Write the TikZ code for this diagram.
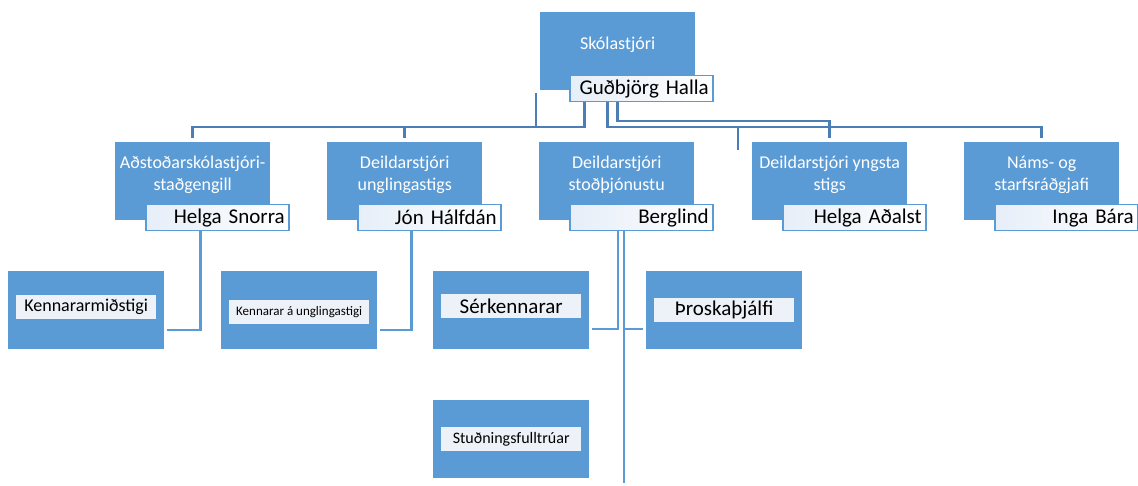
\documentclass[tikz,border=0pt]{standalone}
\usepackage{fontspec}
\setmainfont{Carlito}
\usepackage{xcolor}
\usepackage{tikz}
\usetikzlibrary{positioning,calc}

\definecolor{boxblue}{HTML}{5B9BD5}
\definecolor{linedark}{HTML}{4A7EB5}
\definecolor{namefill}{HTML}{E6EEF8}
\definecolor{tagfill}{HTML}{EDF2F9}

\tikzset{
  rolebox/.style={fill=boxblue, minimum width=155pt, minimum height=78pt, inner sep=0pt, anchor=north west},
  roletext/.style={text=white, align=center, font=\fontsize{18}{22}\selectfont},
  namebox/.style={draw=boxblue, line width=1.5pt, left color=namefill, right color=white,
    text width=135pt, inner xsep=4pt, inner ysep=0pt, minimum height=26pt,
    align=right, anchor=north west, font=\fontsize{21}{24}\selectfont},
  tagbox/.style={fill=tagfill, minimum width=140pt, minimum height=24pt, inner sep=0pt},
  topline/.style={draw=linedark, line width=2.5pt},
  subline/.style={draw=boxblue, line width=2.5pt}
}

\begin{document}
\begin{tikzpicture}[x=1pt,y=-1pt]
    \useasboundingbox (0,0) rectangle (1138,486);
    % Draw head box
    \node[rolebox] (boss) at (540,12) {};
    \node[roletext] at ([yshift=6pt]boss.center) {Skólastjóri};
    \node[namebox] (whoboss) at (569,75) {Guðbjörg Halla};
    % Draw second row
    \foreach \n/\x/\title/\who in {ast/115/{Aðstoðarskólastjóri-\\staðgengill}/Helga Snorra,
        uei/327/{Deildarstjóri\\unglingastigs}/Jón Hálfdán,
        stod/539/{Deildarstjóri\\stoðþjónustu}/Berglind,
        yng/752/{Deildarstjóri yngsta\\stigs}/Helga Aðalst,
        nams/964/{Náms- og\\starfsráðgjafi}/Inga Bára}
    {
        \node[rolebox] (\n) at (\x,142) {};
        \node[roletext] at ([yshift=6pt]\n.center) {\title};
        \node[namebox] (who\n) at (\x+30,204) {\who};
    }
    % Draw third row
    \foreach \n/\x/\y/\dy/\fs/\txt in {kmid/8/271/3/18/Kennararmiðstigi,
        kung/221/271/-2/13/Kennarar á unglingastigi,
        serk/433/271/4/21/Sérkennarar,
        thro/646/271/0/21/Þroskaþjálfi,
        stud/433/400/0/16/Stuðningsfulltrúar}
    {
        \node[rolebox, minimum width=156pt] (\n) at (\x,\y) {};
        \node[tagbox, font=\fontsize{\fs}{\fs}\selectfont] (tag\n) at ([yshift=\dy pt]\n.center) {\txt};
    }
    % Draw top connectors
    \coordinate (busL) at (0,127);
    \coordinate (busR) at (0,121);
    \draw[topline] ([xshift=-57pt]whoboss.south) |- (ast.north |- busL) -- ([yshift=4pt]ast.north);
    \draw[topline] ([yshift=4pt]uei.north) -- (uei.north |- busL);
    \draw[topline] ([xshift=-34pt]whoboss.south) |- (nams.north |- busL) -- ([yshift=4pt]nams.north);
    \draw[topline] ([xshift=-24pt]whoboss.south) |- (yng.north |- busR) -- ([yshift=4pt]yng.north);
    % loose ends
    \coordinate (looseA) at ([xshift=-4pt,yshift=-3pt]boss.south west);
    \draw[topline] (looseA) -- (looseA |- busL);
    \coordinate (looseB) at (738,150);
    \draw[topline] (looseB) -- (looseB |- busL);
    % Draw lower connectors
    \draw[subline] ([xshift=-17pt]whoast.south) |- ([xshift=3pt,yshift=-20pt]kmid.east);
    \draw[subline] ([xshift=-18pt]whouei.south) |- ([xshift=3pt,yshift=-20pt]kung.east);
    \draw[subline] ([xshift=-23.5pt]whostod.south) |- ([xshift=3pt,yshift=-19pt]serk.east);
    \coordinate (bergA) at ([xshift=-17.5pt]whostod.south);
    \coordinate (bottom) at (0,483);
    \draw[subline] (bergA) -- (bergA |- bottom);
    \coordinate (throA) at ([xshift=-3pt,yshift=-19pt]thro.west);
    \draw[subline] (throA) -- (bergA |- throA);
\end{tikzpicture}
\end{document}
